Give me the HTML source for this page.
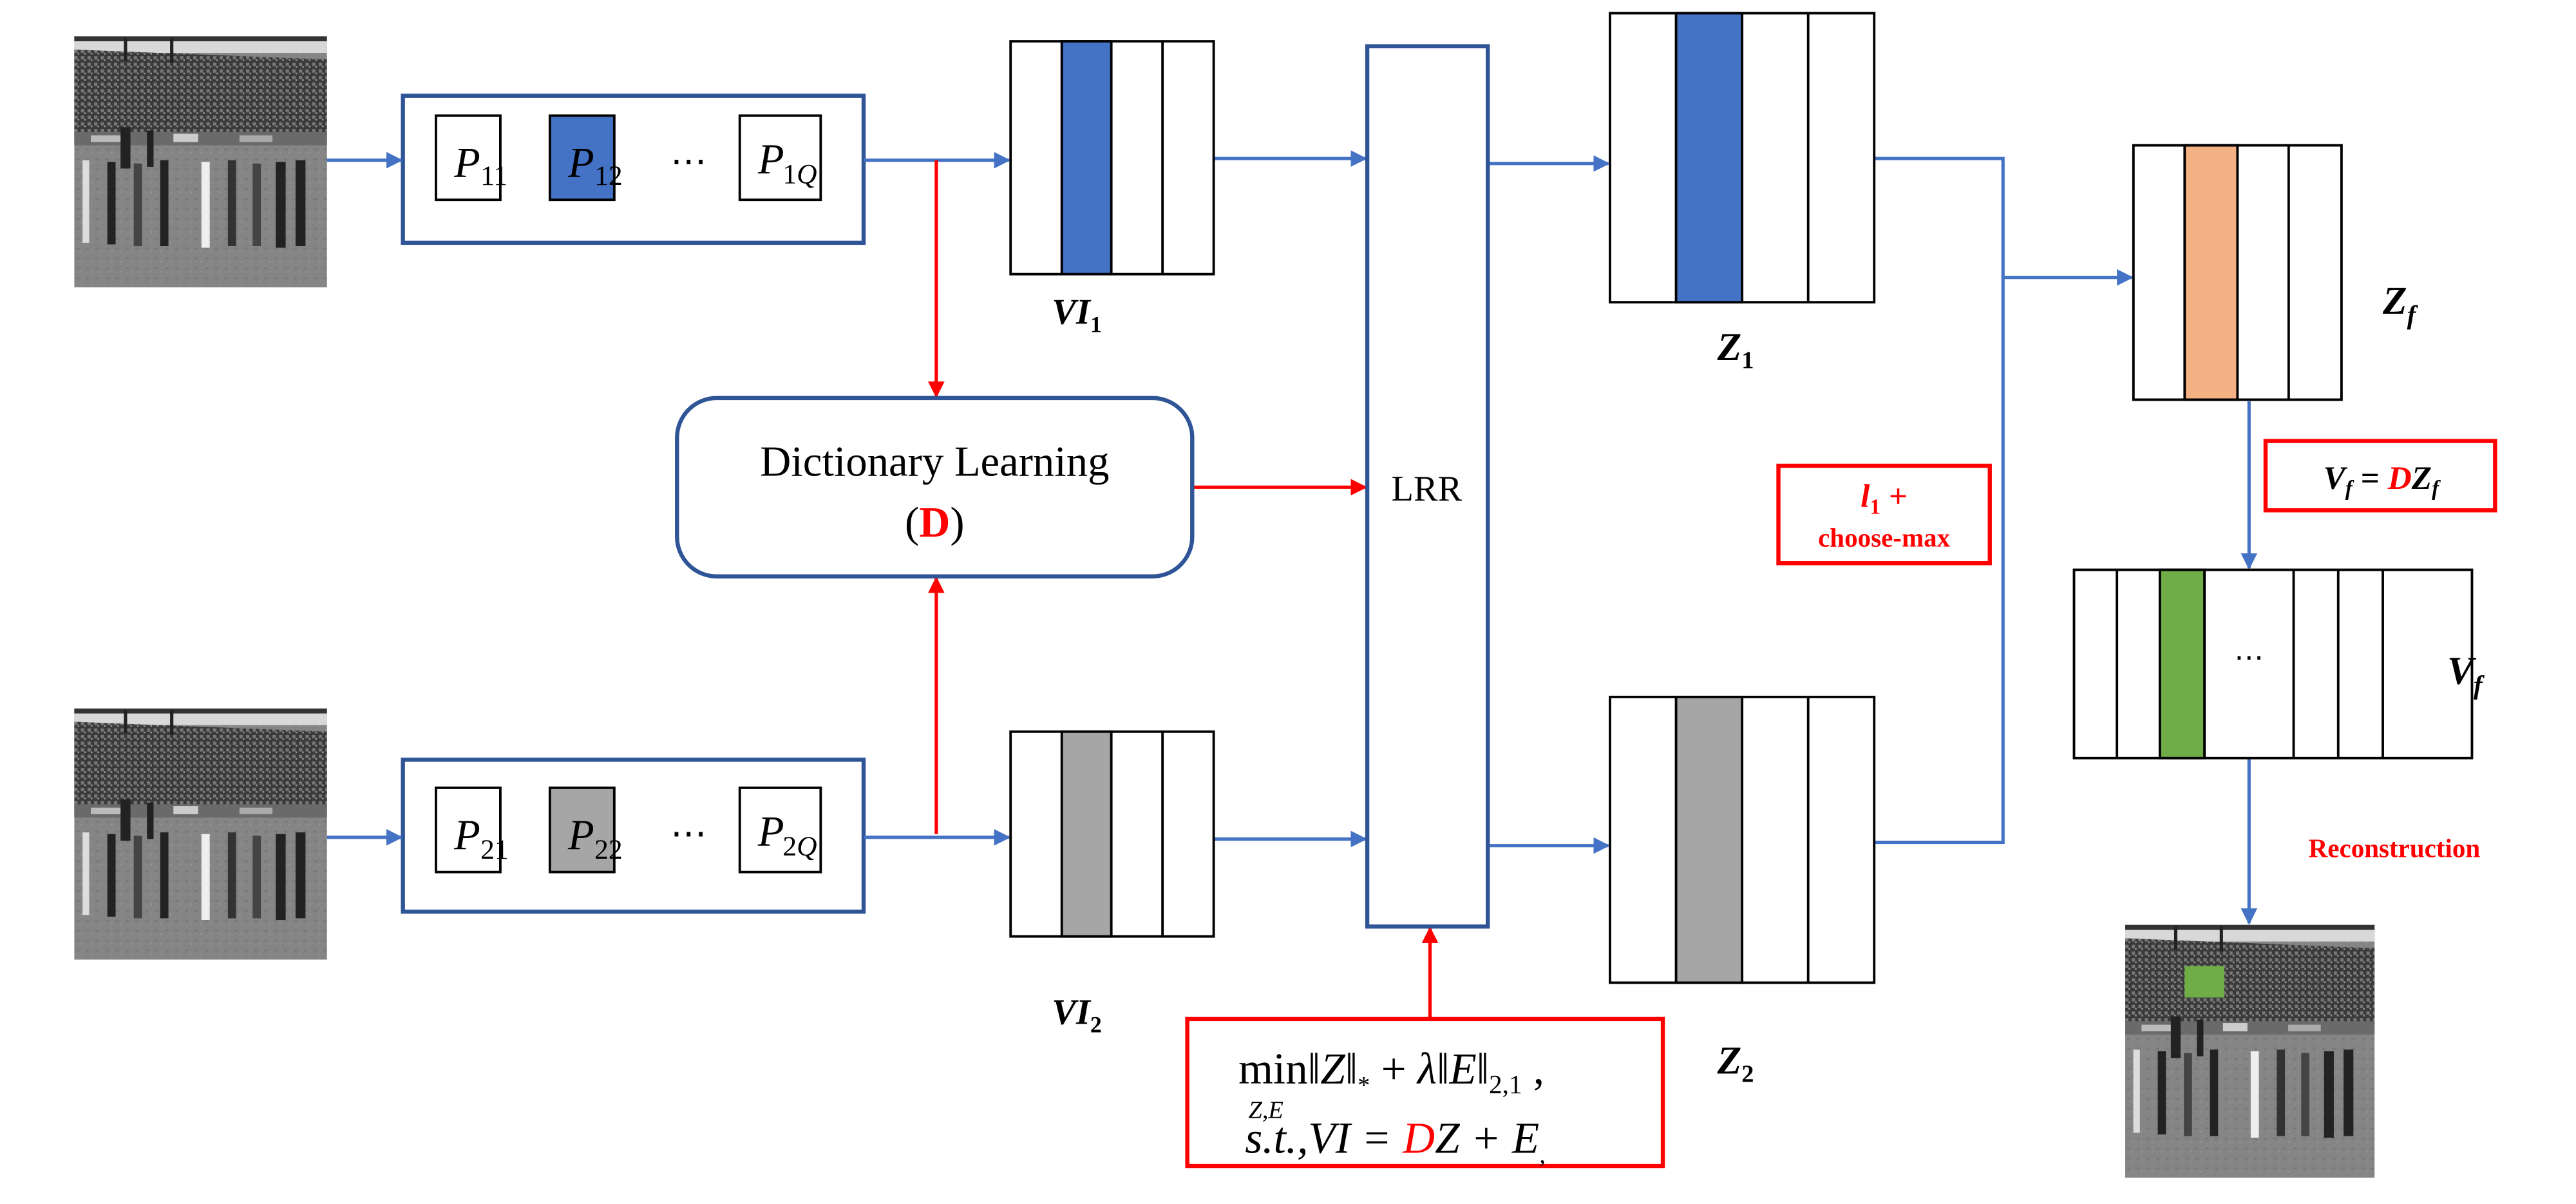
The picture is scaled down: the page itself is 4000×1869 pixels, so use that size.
<!DOCTYPE html>
<html><head><meta charset="utf-8"><style>
html,body{margin:0;padding:0;background:#fff}
svg{display:block}
text{font-family:"Liberation Serif",serif}
</style></head><body>
<svg width="4000" height="1869" viewBox="0 0 1560 729" preserveAspectRatio="none" xmlns="http://www.w3.org/2000/svg">
<defs>
<marker id="ab" viewBox="0 0 10 10" refX="9" refY="5" markerWidth="5" markerHeight="5" orient="auto"><path d="M0,0L10,5L0,10z" fill="#4472c4"/></marker>
<marker id="ar" viewBox="0 0 10 10" refX="9" refY="5" markerWidth="5" markerHeight="5" orient="auto"><path d="M0,0L10,5L0,10z" fill="#ff0000"/></marker>
<pattern id="crowd" width="4" height="4" patternUnits="userSpaceOnUse">
<rect width="4" height="4" fill="#3a3a3a"/><rect x="0" y="0" width="2" height="2" fill="#777"/><rect x="2" y="2" width="1" height="1" fill="#999"/>
</pattern>
<pattern id="field" width="6" height="6" patternUnits="userSpaceOnUse">
<rect width="6" height="6" fill="#858585"/><rect x="1" y="2" width="2" height="1" fill="#777"/><rect x="4" y="4" width="1" height="1" fill="#929292"/>
</pattern>
<g id="photo">
<rect x="0" y="0" width="153" height="152" fill="url(#field)"/>
<rect x="0" y="0" width="153" height="10" fill="#d8d8d8"/>
<rect x="0" y="0" width="153" height="3" fill="#333"/>
<polygon points="0,8 153,14 153,62 0,64" fill="url(#crowd)"/>
<rect x="0" y="58" width="153" height="8" fill="#6a6a6a"/>
<rect x="10" y="60" width="20" height="4" fill="#bbb"/><rect x="60" y="59" width="15" height="5" fill="#ccc"/><rect x="100" y="60" width="20" height="4" fill="#aaa"/>
<rect x="30" y="1" width="2" height="14" fill="#222"/><rect x="58" y="1" width="2" height="15" fill="#222"/>
<g fill="#222">
<rect x="5" y="75" width="4" height="50" fill="#ddd"/><rect x="20" y="76" width="5" height="50"/><rect x="36" y="77" width="5" height="50" fill="#444"/><rect x="52" y="75" width="5" height="52"/><rect x="77" y="76" width="5" height="52" fill="#eee"/><rect x="93" y="75" width="5" height="52" fill="#333"/><rect x="108" y="77" width="5" height="50" fill="#444"/><rect x="122" y="76" width="6" height="52"/><rect x="134" y="75" width="6" height="52"/>
<rect x="28" y="55" width="6" height="25"/><rect x="44" y="57" width="4" height="22"/>
</g>
</g>
</defs>

<use href="#photo" x="45" y="22"/>
<use href="#photo" x="45" y="429"/>

<rect x="244" y="58" width="279" height="89" fill="#fff" stroke="#2f5597" stroke-width="2.5"/>
<rect x="264" y="70" width="39" height="51" fill="#fff" stroke="#000" stroke-width="1.5"/>
<rect x="333" y="70" width="39" height="51" fill="#4472c4" stroke="#000" stroke-width="1.5"/>
<rect x="448" y="70" width="49" height="51" fill="#fff" stroke="#000" stroke-width="1.5"/>
<text x="275" y="107" font-size="26" font-style="italic">P</text><text x="291" y="112" font-size="17">11</text>
<text x="344" y="107" font-size="26" font-style="italic">P</text><text x="360" y="112" font-size="17">12</text>
<text x="406" y="105" font-size="22">⋯</text>
<text x="459" y="105" font-size="26" font-style="italic">P</text><text x="474" y="111" font-size="17">1<tspan font-style="italic">Q</tspan></text>

<rect x="244" y="460" width="279" height="92" fill="#fff" stroke="#2f5597" stroke-width="2.5"/>
<rect x="264" y="477" width="39" height="51" fill="#fff" stroke="#000" stroke-width="1.5"/>
<rect x="333" y="477" width="39" height="51" fill="#a6a6a6" stroke="#000" stroke-width="1.5"/>
<rect x="448" y="477" width="49" height="51" fill="#fff" stroke="#000" stroke-width="1.5"/>
<text x="275" y="514" font-size="26" font-style="italic">P</text><text x="291" y="520" font-size="17">21</text>
<text x="344" y="514" font-size="26" font-style="italic">P</text><text x="360" y="520" font-size="17">22</text>
<text x="406" y="512" font-size="22">⋯</text>
<text x="459" y="512" font-size="26" font-style="italic">P</text><text x="474" y="518" font-size="17">2<tspan font-style="italic">Q</tspan></text>

<g stroke="#4472c4" stroke-width="2" fill="none">
<line x1="198" y1="97" x2="243" y2="97" marker-end="url(#ab)"/>
<line x1="198" y1="507" x2="243" y2="507" marker-end="url(#ab)"/>
<line x1="523" y1="97" x2="611" y2="97" marker-end="url(#ab)"/>
<line x1="523" y1="507" x2="611" y2="507" marker-end="url(#ab)"/>
<line x1="735" y1="96" x2="827" y2="96" marker-end="url(#ab)"/>
<line x1="735" y1="508" x2="827" y2="508" marker-end="url(#ab)"/>
<line x1="901" y1="99" x2="974" y2="99" marker-end="url(#ab)"/>
<line x1="901" y1="512" x2="974" y2="512" marker-end="url(#ab)"/>
<polyline points="1135,96 1213,96 1213,510 1135,510"/>
<line x1="1213" y1="168" x2="1291" y2="168" marker-end="url(#ab)"/>
<line x1="1362" y1="243" x2="1362" y2="344" marker-end="url(#ab)"/>
<line x1="1362" y1="459" x2="1362" y2="559" marker-end="url(#ab)"/>
</g>

<g stroke="#ff0000" stroke-width="2" fill="none">
<line x1="567" y1="97" x2="567" y2="240" marker-end="url(#ar)"/>
<line x1="567" y1="505" x2="567" y2="350" marker-end="url(#ar)"/>
<line x1="722" y1="295" x2="827" y2="295" marker-end="url(#ar)"/>
<line x1="866" y1="617" x2="866" y2="562" marker-end="url(#ar)"/>
</g>

<g stroke="#000" stroke-width="1.5">
<rect x="612" y="25" width="123" height="141" fill="#fff"/>
<rect x="643" y="25" width="30" height="141" fill="#4472c4"/>
<line x1="704" y1="25" x2="704" y2="166"/>
<rect x="612" y="443" width="123" height="124" fill="#fff"/>
<rect x="643" y="443" width="30" height="124" fill="#a6a6a6"/>
<line x1="704" y1="443" x2="704" y2="567"/>
</g>
<text x="637" y="196" font-size="22" font-style="italic" font-weight="bold">VI<tspan font-size="14" dy="5" font-style="normal">1</tspan></text>
<text x="637" y="620" font-size="22" font-style="italic" font-weight="bold">VI<tspan font-size="14" dy="5" font-style="normal">2</tspan></text>

<rect x="410" y="241" width="312" height="108" rx="24" fill="#fff" stroke="#2f5597" stroke-width="2.5"/>
<text x="566" y="288" font-size="26" text-anchor="middle">Dictionary Learning</text>
<text x="566" y="325" font-size="26" text-anchor="middle">(<tspan fill="#ff0000" font-weight="bold">D</tspan>)</text>

<rect x="828" y="28" width="73" height="533" fill="#fff" stroke="#2f5597" stroke-width="2.5"/>
<text x="864" y="303" font-size="22" text-anchor="middle" font-family="Liberation Sans, sans-serif">LRR</text>

<g stroke="#000" stroke-width="1.5">
<rect x="975" y="8" width="160" height="175" fill="#fff"/>
<rect x="1015" y="8" width="40" height="175" fill="#4472c4"/>
<line x1="1095" y1="8" x2="1095" y2="183"/>
<rect x="975" y="422" width="160" height="173" fill="#fff"/>
<rect x="1015" y="422" width="40" height="173" fill="#a6a6a6"/>
<line x1="1095" y1="422" x2="1095" y2="595"/>
<rect x="1292" y="88" width="126" height="154" fill="#fff"/>
<rect x="1323" y="88" width="32" height="154" fill="#f4b183"/>
<line x1="1386" y1="88" x2="1386" y2="242"/>
<rect x="1256" y="345" width="241" height="114" fill="#fff"/>
<rect x="1308" y="345" width="27" height="114" fill="#70ad47"/>
<line x1="1282" y1="345" x2="1282" y2="459"/>
<line x1="1389" y1="345" x2="1389" y2="459"/>
<line x1="1416" y1="345" x2="1416" y2="459"/>
<line x1="1443" y1="345" x2="1443" y2="459"/>
</g>
<text x="1362" y="404" font-size="18" text-anchor="middle">⋯</text>
<text x="1040" y="218" font-size="24" font-style="italic" font-weight="bold">Z<tspan font-size="15" dy="5" font-style="normal">1</tspan></text>
<text x="1040" y="650" font-size="24" font-style="italic" font-weight="bold">Z<tspan font-size="15" dy="5" font-style="normal">2</tspan></text>
<text x="1443" y="190" font-size="24" font-style="italic" font-weight="bold">Z<tspan font-size="16" dy="6">f</tspan></text>
<text x="1482" y="414" font-size="24" font-style="italic" font-weight="bold">V<tspan font-size="16" dy="6">f</tspan></text>

<rect x="1077" y="282" width="128" height="59" fill="#fff" stroke="#ff0000" stroke-width="2.5"/>
<text x="1141" y="307" font-size="20" fill="#ff0000" text-anchor="middle" font-style="italic" font-weight="bold">l<tspan font-size="13" dy="4" font-style="normal">1</tspan><tspan dy="-4" font-style="normal"> +</tspan></text>
<text x="1141" y="331" font-size="16" fill="#ff0000" text-anchor="middle" font-weight="bold" font-family="Liberation Sans, sans-serif">choose-max</text>

<rect x="1372" y="267" width="139" height="42" fill="#fff" stroke="#ff0000" stroke-width="2.5"/>
<text x="1442" y="296" font-size="20" text-anchor="middle" font-style="italic" font-weight="bold">V<tspan font-size="13" dy="4">f</tspan><tspan dy="-4" font-style="normal"> = </tspan><tspan fill="#ff0000">D</tspan>Z<tspan font-size="13" dy="4">f</tspan></text>

<text x="1450" y="519" font-size="16" fill="#ff0000" text-anchor="middle" font-weight="bold" font-family="Liberation Sans, sans-serif">Reconstruction</text>

<rect x="719" y="617" width="288" height="89" fill="#fff" stroke="#ff0000" stroke-width="2.5"/>
<text x="750" y="656" font-size="27">min<tspan font-style="italic">‖Z‖</tspan><tspan font-size="15" dy="6">*</tspan><tspan dy="-6"> + </tspan><tspan font-style="italic">λ‖E‖</tspan><tspan font-size="16" dy="6">2,1</tspan><tspan dy="-6"> ,</tspan></text>
<text x="756" y="677" font-size="15" font-style="italic">Z,E</text>
<text x="754" y="698" font-size="27" font-style="italic">s.t.,VI = <tspan fill="#ff0000">D</tspan>Z + E<tspan font-size="15" dy="6">,</tspan></text>

<use href="#photo" transform="translate(1287 560) scale(0.987 1.007)"/>
<rect x="1323" y="585" width="24" height="19" fill="#70ad47"/>
</svg>
</body></html>
